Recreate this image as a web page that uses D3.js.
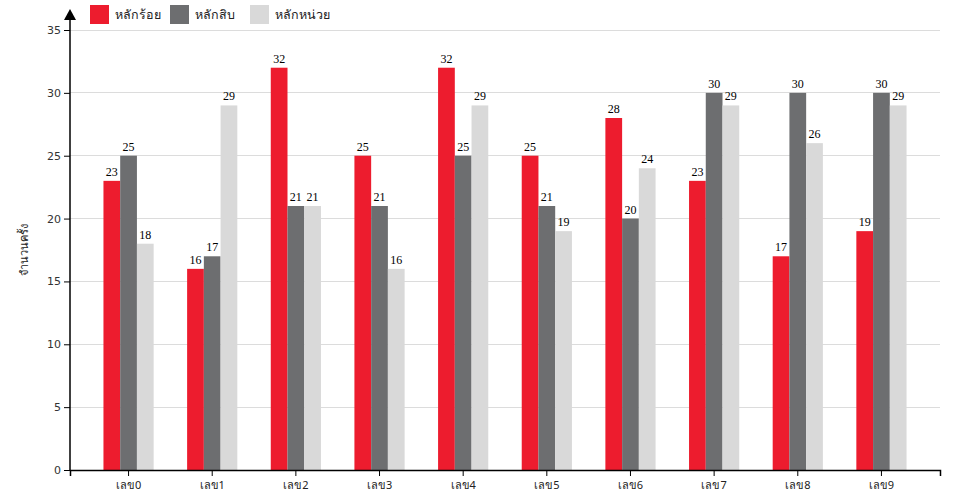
<!DOCTYPE html>
<html><head><meta charset="utf-8">
<script src="https://cdn.jsdelivr.net/npm/d3@7"></script>
<style>body{margin:0;background:#fff;} svg{display:block;}</style>
</head><body>
<svg id="c" width="960" height="500"></svg>
<script>
const categories = ["เลข0","เลข1","เลข2","เลข3","เลข4","เลข5","เลข6","เลข7","เลข8","เลข9"];
const seriesNames = ["หลักร้อย","หลักสิบ","หลักหน่วย"];
const hundreds = [23,16,32,25,32,25,28,23,17,19];
const tens = [25,17,21,21,25,21,20,30,30,30];
const units = [18,29,21,16,29,19,24,29,26,29];
const colors = ["#ed1c2e","#6d6e70","#d9d9d9"];
const yTicks = [0,5,10,15,20,25,30,35];
const yLabel = "จำนวนครั้ง";

const series = [hundreds, tens, units];
const svg = d3.select("#c");
const m = {l:70, r:20, t:30, b:30};
const W = 960, H = 500;
const x0 = d3.scaleBand().domain(categories).range([m.l, W - m.r]).padding(0.4);
const x1 = d3.scaleBand().domain(d3.range(series.length)).range([0, x0.bandwidth()]);
const y = d3.scaleLinear().domain([0,35]).range([H - m.b, m.t]);

// grid
svg.append("g").selectAll("line").data(yTicks.slice(1)).join("line")
  .attr("x1", m.l).attr("x2", W - m.r)
  .attr("y1", d => y(d)).attr("y2", d => y(d))
  .attr("stroke", "#dcdcdc").attr("stroke-width", 1).attr("shape-rendering","crispEdges");

// bars
const g = svg.append("g").selectAll("g").data(categories).join("g")
  .attr("transform", d => `translate(${x0(d)},0)`);
g.selectAll("rect").data((d,i) => series.map((s,k) => ({k, v: s[i]}))).join("rect")
  .attr("x", d => x1(d.k)).attr("width", x1.bandwidth())
  .attr("y", d => y(d.v)).attr("height", d => y(0) - y(d.v))
  .attr("fill", d => colors[d.k]);
g.selectAll("text").data((d,i) => series.map((s,k) => ({k, v: s[i]}))).join("text")
  .attr("x", d => x1(d.k) + x1.bandwidth()/2).attr("y", d => y(d.v) - 5)
  .attr("text-anchor","middle").attr("font-family","'Liberation Serif', 'Times New Roman', serif")
  .attr("font-size", 12).attr("fill","#000").text(d => d.v);

// y axis
const ya = svg.append("g").attr("transform", `translate(${m.l},0)`)
  .call(d3.axisLeft(y).tickValues(yTicks).tickSize(6).tickSizeOuter(0));
ya.select(".domain").remove();
ya.selectAll("text").attr("font-family","'DejaVu Sans', sans-serif").attr("font-size",11).attr("fill","#333");
ya.selectAll("line").attr("stroke","#000");
svg.append("line").attr("x1", m.l).attr("x2", m.l).attr("y1", y(0)).attr("y2", 18)
  .attr("stroke","#000").attr("stroke-width",1.5);
svg.append("path").attr("d", `M${m.l},9L${m.l+6},20L${m.l-6},20Z`).attr("fill","#000");

// x axis
const xa = svg.append("g").attr("transform", `translate(0,${y(0)})`)
  .call(d3.axisBottom(x0).tickSize(6).tickSizeOuter(6));
xa.select(".domain").attr("stroke","#000").attr("stroke-width",1.5);
xa.selectAll("text").attr("font-family","'Noto Sans', 'DejaVu Sans', sans-serif").attr("font-size",11).attr("fill","#222").attr("dy","0.9em");

// y label
svg.append("text").attr("transform", `translate(28,${(y(0)+y(35))/2}) rotate(-90)`)
  .attr("text-anchor","middle").attr("font-family","'Noto Sans', sans-serif").attr("font-size",11)
  .attr("fill","#222").text(yLabel);

// legend
const lg = svg.append("g").selectAll("g").data(seriesNames).join("g")
  .attr("transform", (d,i) => `translate(${90 + i*80},5)`);
lg.append("rect").attr("width",19).attr("height",19).attr("fill",(d,i)=>colors[i]);
lg.append("text").attr("x",25).attr("y",14).attr("font-family","'Noto Sans', sans-serif")
  .attr("font-size",12.5).attr("fill","#222").text(d=>d);
</script>
</body></html>
